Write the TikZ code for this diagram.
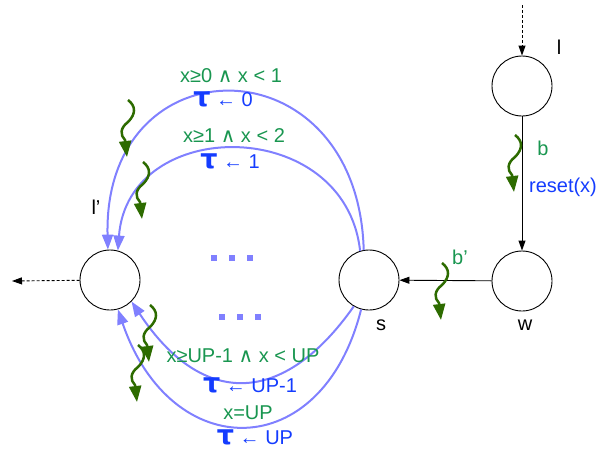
\documentclass[tikz,border=0pt]{standalone}
\usepackage{fontspec}
\setmainfont{Liberation Sans}
\newfontfamily\dv{DejaVu Sans}
\usetikzlibrary{arrows.meta}
\definecolor{arcblue}{RGB}{128,128,255}
\definecolor{txtblue}{RGB}{20,60,255}
\definecolor{txtgreen}{RGB}{25,150,80}
\definecolor{sqgreen}{RGB}{45,107,0}
\newcommand{\tauup}{\smash{\dv\bfseries\fontsize{27}{27}\selectfont τ}}
\newcommand{\andop}{{\dv ∧}}
\begin{document}
\begin{tikzpicture}[x=1pt,y=-1pt,
  state/.style={draw,circle,minimum size=60pt,inner sep=0pt,line width=0.9pt},
  blk/.style={line width=0.9pt,-{Triangle[length=10pt,width=7pt]}},
  initarrow/.style={blk,dash pattern=on 3pt off 2pt},
  blu/.style={arcblue,line width=2pt,-{Triangle[length=15pt,width=11pt]}},
  guard/.style={text=txtgreen,font=\fontsize{20}{22}\selectfont,inner sep=0pt},
  upd/.style={text=txtblue,font=\fontsize{20}{22}\selectfont,inner sep=0pt},
  lbl/.style={font=\fontsize{20}{22}\selectfont,inner sep=0pt},
  sq/.style={sqgreen,line width=2.5pt,-{Triangle[length=16pt,width=12pt]}},
  squig/.pic={\draw[sq] (0,0) .. controls (8,6) and (8,14) .. (0,22) .. controls (-8,28) and (-8,35) .. (-3,40) -- (-1,57);},
  dot/.style={fill=arcblue}
]
\useasboundingbox (0,0) rectangle (599,450);
% states
\node[state] (l) at (522,86) {};
\node[state] (w) at (522,281) {};
\node[state] (s) at (369,280) {};
\node[state] (lp) at (110,280) {};
% state labels
\node[lbl] (labl) at (559,47) {l};
\node[lbl] (labw) at (525,325) {w};
\node[lbl] (labs) at (381,325) {s};
\node[lbl] (lablp) at (96,207) {l’};
% initial and exit
\coordinate (init) at (522,5);
\coordinate (exit) at (12,281);
\draw[initarrow] (init) -- (l);
\draw[initarrow] (lp) -- (exit);
% black edges
\draw[blk] (l) -- (w);
\draw[blk] (w) -- (s);
\node[guard] (gb) at (543,148) {b};
\node[upd] (ub) at (563,187) {reset(x)};
\node[guard] (gbp) at (460,257) {b’};
% blue arcs
\draw[blu] (s.100) .. controls (358,40) and (103,40) .. (lp.94);
\draw[blu] (s.107) .. controls (345,115) and (128,115) .. (lp.75);
\draw[blu] (s.-120) .. controls (283,407) and (202,408) .. (lp.-45);
\draw[blu] (s.-105) .. controls (322,465) and (171,465) .. (lp.-75);
% arc labels
\node[guard] (g0) at (231,76) {x≥0 \andop\ x < 1};
\node[upd] (u0) at (223,100) {\tauup\ ← 0};
\node[guard] (g1) at (234,136) {x≥1 \andop\ x < 2};
\node[upd] (u1) at (230,162) {\tauup\ ← 1};
\node[guard] (g2) at (243,356) {x≥UP-1 \andop\ x < UP};
\node[upd] (u2) at (250,386) {\tauup\ ← UP-1};
\node[guard] (g3) at (248,413) {x=UP};
\node[upd] (u3) at (255,438) {\tauup\ ← UP};
% dots
\foreach \x in {214,232,250} \fill[dot] (\x-3,255) rectangle (\x+3,261);
\foreach \x in {222,240,258} \fill[dot] (\x-3,314) rectangle (\x+3,320);
% squiggles
\pic at (128,100) {squig};
\pic at (143,162) {squig};
\pic at (150,305) {squig};
\pic at (138,345) {squig};
\pic at (515,135) {squig};
\pic at (442,263) {squig};
\end{tikzpicture}
\end{document}
